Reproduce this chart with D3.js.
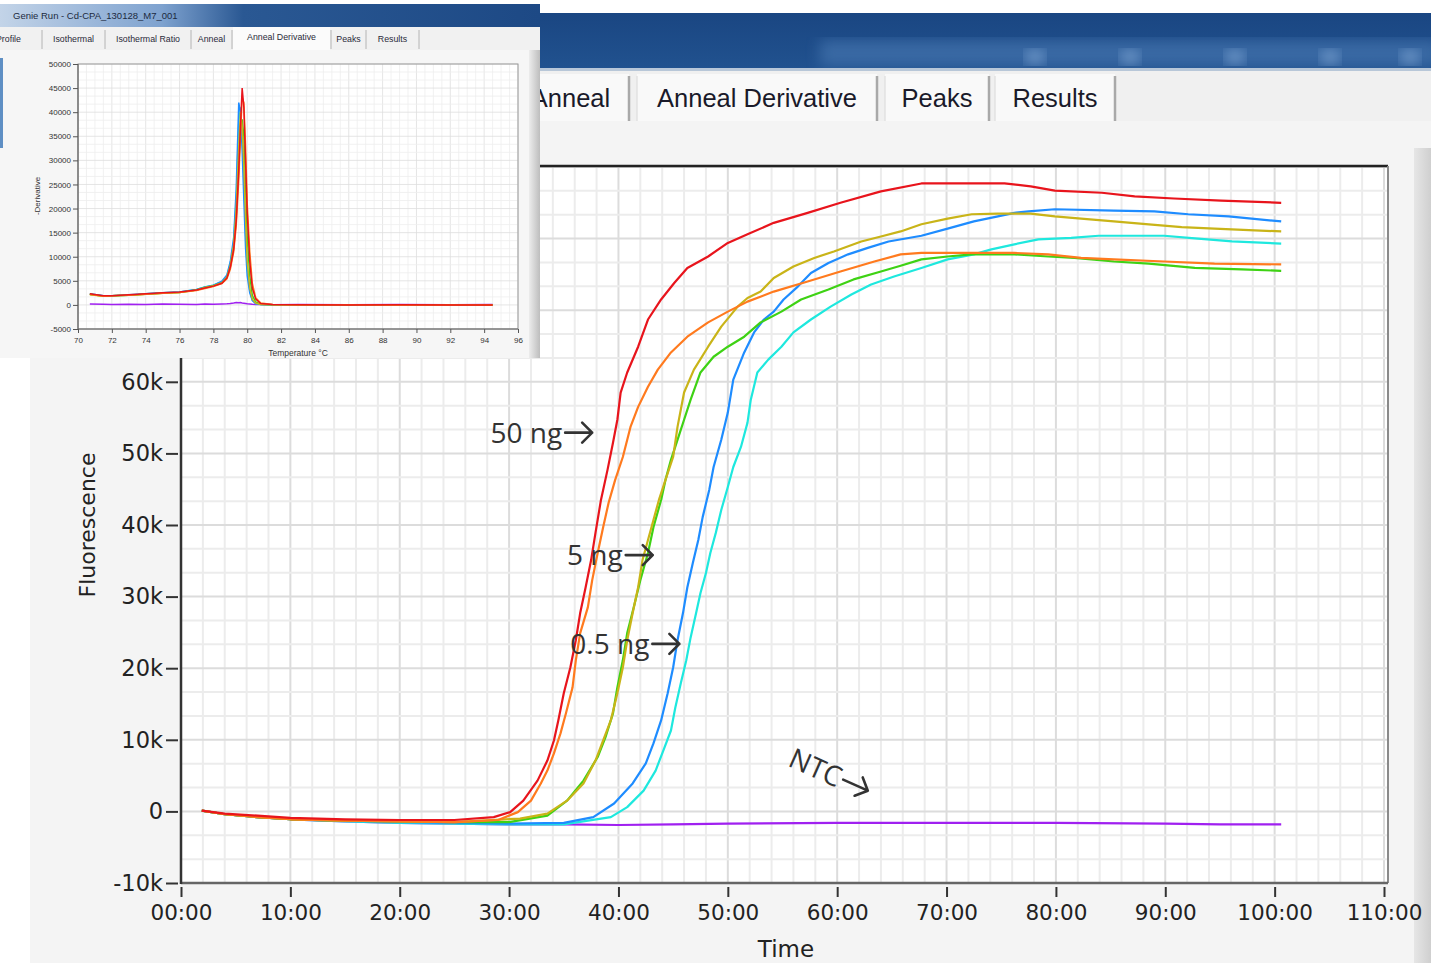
<!DOCTYPE html>
<html>
<head>
<meta charset="utf-8">
<script src="https://cdn.jsdelivr.net/npm/d3@7"></script>
<style>
  body { margin: 0; background: #fff; }
  svg { display: block; }
</style>
</head>
<body>
<svg id="chart" width="1431" height="963"></svg>
<script>

//#region data

// main amplification plot: time in minutes, fluorescence in thousands
const red_time    = [1.9,4,7,10,15,20,25,28.6,30.1,31.3,32.6,33.5,34.1,34.5,35.0,35.6,36.1,36.5,37.0,37.5,37.9,38.4,39.0,39.5,39.9,40.2,40.8,41.8,42.7,43.9,45.1,46.3,48.2,50.0,51.8,54.2,57.3,60.3,64.0,67.7,75.3,77.7,79.9,84.2,87.2,90.8,95.1,100.6];
const red_fluorK  = [0.1,-0.3,-0.6,-0.9,-1.1,-1.2,-1.2,-0.8,-0.1,1.5,4.3,7.1,9.9,12.7,16.5,20.1,23.9,27.7,31.3,35.1,38.9,43.5,47.7,51.5,54.7,58.5,61.3,64.9,68.7,71.5,73.8,75.9,77.5,79.4,80.6,82.2,83.6,85.0,86.6,87.7,87.7,87.3,86.7,86.4,85.9,85.6,85.3,85.0];

const orange_time   = [1.9,4,7,10,15,20,25,29.0,30.8,32.0,32.9,33.5,34.1,34.7,35.2,35.8,36.1,36.5,37.2,37.6,38.1,38.6,39.1,39.7,40.4,41.1,41.8,42.7,43.6,44.8,46.3,48.2,50.0,51.8,54.2,57.3,60.3,63.4,65.8,67.7,76.2,79.3,82.3,85.3,89.9,94.5,100.6];
const orange_fluorK = [0.1,-0.4,-0.8,-1.1,-1.3,-1.4,-1.5,-1.2,-0.1,1.5,3.9,5.7,8.1,10.9,13.7,17.3,21.1,24.9,28.5,32.3,36.1,39.7,43.1,46.3,49.5,53.7,56.5,59.3,61.7,64.1,66.3,68.3,69.8,71.2,72.6,74.0,75.4,76.8,77.8,78.0,78.0,77.8,77.3,77.1,76.8,76.5,76.4];

const olive_time   = [1.9,4,7,10,15,20,25,31.0,33.5,35.3,36.8,37.9,38.6,39.3,39.9,40.4,40.8,41.3,41.8,42.2,42.7,43.2,43.7,44.3,45.0,45.4,46.0,46.9,48.2,49.4,50.9,51.8,53.0,54.2,56.0,57.9,59.7,62.2,64.0,65.8,67.7,70.1,72.3,74.7,77.7,79.9,82.3,85.3,88.5,91.5,94.5,100.6];
const olive_fluorK = [0.1,-0.4,-0.8,-1.1,-1.3,-1.4,-1.5,-1.0,-0.3,1.5,3.9,7.1,9.9,12.7,16.5,20.1,23.9,27.7,31.3,35.1,37.9,40.7,43.5,46.3,49.5,53.7,58.5,61.7,64.9,67.7,70.5,71.7,72.6,74.5,76.1,77.3,78.2,79.6,80.3,81.0,82.0,82.8,83.4,83.5,83.5,83.1,82.8,82.4,82.0,81.6,81.4,81.0];

const green_time   = [1.9,4,7,10,15,20,25,30,33.5,35.3,36.8,38.1,38.8,39.5,39.9,40.4,40.8,41.4,42.0,42.7,43.2,43.9,44.3,44.8,45.4,46.0,46.6,47.5,48.7,50.0,51.5,53.0,54.9,56.7,59.2,61.5,64.0,65.8,67.7,70.1,72.3,76.2,79.3,81.7,85.3,88.5,92.7,97.0,100.6];
const green_fluorK = [0.1,-0.4,-0.8,-1.1,-1.3,-1.4,-1.5,-1.5,-0.6,1.5,4.3,7.6,10.3,13.7,17.3,21.1,24.9,28.5,32.3,36.1,39.7,43.5,46.3,49.1,51.9,54.7,57.5,61.3,63.5,64.9,66.3,68.3,69.8,71.5,72.9,74.3,75.4,76.2,77.1,77.5,77.8,77.8,77.5,77.3,76.8,76.5,75.9,75.7,75.5];

const blue_time   = [1.9,4,7,10,15,20,25,30,35,37.7,39.6,41.3,42.5,43.2,43.9,44.5,45.0,45.4,45.9,46.3,46.8,47.3,47.7,48.3,48.7,49.4,50.0,50.5,51.5,52.4,53.3,54.2,55.1,56.4,57.6,59.2,61.0,62.8,64.7,67.7,70.1,72.5,74.7,76.2,77.5,79.9,85.3,89.0,92.1,95.8,100.6];
const blue_fluorK = [0.1,-0.4,-0.8,-1.1,-1.3,-1.5,-1.6,-1.7,-1.6,-0.8,1.1,3.9,6.7,9.5,12.7,16.5,20.1,23.9,27.7,31.3,34.7,37.9,41.1,44.9,48.1,51.9,55.7,60.3,64.1,66.9,68.7,69.8,71.5,73.3,75.2,76.6,77.8,78.7,79.6,80.4,81.4,82.4,83.1,83.6,83.8,84.1,83.9,83.8,83.4,83.1,82.4];

const cyan_time   = [1.9,4,7,10,15,20,25,30,35,39.3,40.8,42.3,43.4,44.1,44.8,45.2,45.7,46.2,46.6,47.1,47.5,48.0,48.4,48.9,49.4,50.0,50.5,51.2,51.8,52.1,52.7,53.7,54.9,56.0,57.6,59.4,61.3,63.1,65.2,67.7,70.1,72.5,74.1,76.2,78.4,81.4,83.9,89.9,93.0,96.1,100.6];
const cyan_fluorK = [0.1,-0.4,-0.8,-1.1,-1.4,-1.6,-1.7,-1.8,-1.8,-0.8,0.6,2.9,5.7,8.5,11.3,14.5,17.9,21.1,24.3,27.7,30.5,33.3,36.1,38.9,42.1,45.3,48.1,50.9,54.3,57.5,61.3,63.1,64.9,66.9,68.7,70.5,72.2,73.6,74.7,75.9,77.1,77.8,78.5,79.2,79.9,80.1,80.4,80.4,80.0,79.6,79.3];

const ntc_time   = [1.9,4,7,10,15,20,25,30,35,40,45,50,60,70,80,90,95,100.6];
const ntc_fluorK = [0.1,-0.4,-0.8,-1.1,-1.4,-1.6,-1.7,-1.8,-1.8,-1.9,-1.8,-1.7,-1.6,-1.6,-1.6,-1.7,-1.8,-1.8];

const timeTicks  = [0,10,20,30,40,50,60,70,80,90,100,110];
const fluorTicks = [-10,0,10,20,30,40,50,60,70,80,90];

// annotation labels (time, fluorescence k of text start)
const labelText  = ['50 ng', '5 ng', '0.5 ng', 'NTC'];
const labelTime  = [28.3, 35.3, 35.6, 55.4];
const labelFluor = [51.5, 34.4, 22.0, 6.4];

// inset: anneal derivative vs temperature
const insetTemp = [70.7,71.5,72,73,74,75,76,77,77.5,78,78.5,78.8,79.0,79.2,79.35,79.5,79.6,79.7,79.8,79.9,80.0,80.15,80.3,80.5,80.8,81.5,83,86,89,92,94.5];
const red_deriv    = [2300,1900,1900,2100,2300,2500,2700,3100,3500,3900,4500,5600,7800,11500,17500,28000,37000,45000,41000,30000,19000,9000,3500,1200,300,100,50,0,50,0,0];
const orange_deriv = [2200,1800,1900,2000,2200,2400,2600,3000,3400,3800,4400,5400,7400,11000,16500,26000,35000,43000,42000,33000,21000,11000,4500,1500,400,100,50,50,0,0,0];
const olive_deriv  = [2100,1800,1900,2000,2200,2400,2600,3100,3600,4000,4600,5800,8200,12500,20000,33000,40000,37000,29000,18000,9000,3500,1200,400,100,50,0,50,0,0,0];
const green_deriv  = [2200,1800,1900,2000,2200,2400,2600,3100,3600,4000,4600,5700,8000,12000,18500,29000,37000,38500,35000,25000,14000,6000,2000,600,150,50,50,0,0,50,0];
const blue_deriv   = [2300,1900,1900,2100,2300,2500,2700,3200,3700,4100,4900,6200,9000,14000,24000,42000,40000,32000,22000,12000,6000,2500,900,300,100,50,0,50,0,0,50];
const cyan_deriv   = [2200,1900,1900,2000,2300,2500,2700,3200,3700,4100,4800,6000,8600,13000,22000,38000,41000,36000,26000,15000,7500,3000,1000,300,100,50,0,0,50,0,0];
const ntc_deriv    = [200,150,100,150,100,200,150,100,200,150,200,250,300,400,500,450,500,400,350,300,250,200,150,100,100,50,100,50,100,50,100];

const insetTempTicks  = [70,72,74,76,78,80,82,84,86,88,90,92,94,96];
const insetDerivTicks = [-5000,0,5000,10000,15000,20000,25000,30000,35000,40000,45000,50000];

const mainTabs  = ['Anneal', 'Anneal Derivative', 'Peaks', 'Results'];
const insetTabs = ['Profile', 'Isothermal', 'Isothermal Ratio', 'Anneal', 'Anneal Derivative', 'Peaks', 'Results'];

//#endregion


//#region styles

const colors = {
    red: '#e8141c', orange: '#ff7a1e', olive: '#c9b418', green: '#3ed214',
    blue: '#1e8cff', cyan: '#1ee8de', ntc: '#a020f0'
};
const uiFont   = '"Liberation Sans", Arial, sans-serif';
const axisFont = '"DejaVu Sans", Verdana, sans-serif';

//#endregion


const svg  = d3.select('#chart');
const defs = svg.append('defs');

// series drawn in this order (ntc first, red last on top)
const mainSeries = [
    { key: 'ntc',    t: ntc_time,    v: ntc_fluorK },
    { key: 'cyan',   t: cyan_time,   v: cyan_fluorK },
    { key: 'blue',   t: blue_time,   v: blue_fluorK },
    { key: 'green',  t: green_time,  v: green_fluorK },
    { key: 'olive',  t: olive_time,  v: olive_fluorK },
    { key: 'orange', t: orange_time, v: orange_fluorK },
    { key: 'red',    t: red_time,    v: red_fluorK }
];
const insetSeries = [
    { key: 'ntc',    v: ntc_deriv },
    { key: 'cyan',   v: cyan_deriv },
    { key: 'blue',   v: blue_deriv },
    { key: 'green',  v: green_deriv },
    { key: 'olive',  v: olive_deriv },
    { key: 'orange', v: orange_deriv },
    { key: 'red',    v: red_deriv }
];


/**
 *  window chrome behind the main plot (title bar, tabs, panel)
 */
function drawMainWindow(){
    svg.append('rect').attr('x', 30).attr('y', 13).attr('width', 1401).attr('height', 950).attr('fill', '#f4f4f4');

    let tg = defs.append('linearGradient').attr('id', 'titleGrad').attr('x1', 0).attr('y1', 0).attr('x2', 0).attr('y2', 1);
    tg.append('stop').attr('offset', '0%').attr('stop-color', '#1a4682');
    tg.append('stop').attr('offset', '100%').attr('stop-color', '#21528f');
    svg.append('rect').attr('x', 30).attr('y', 13).attr('width', 1401).attr('height', 56).attr('fill', 'url(#titleGrad)');

    // blurry window buttons on the right of the title bar
    defs.append('filter').attr('id', 'blur6').append('feGaussianBlur').attr('stdDeviation', 7);
    svg.append('rect').attr('x', 820).attr('y', 40).attr('width', 620).attr('height', 26)
        .attr('fill', '#4f7fb8').attr('opacity', 0.55).attr('filter', 'url(#blur6)');
    [1035, 1130, 1235, 1330, 1410].forEach(cx => {
        svg.append('ellipse').attr('cx', cx).attr('cy', 57).attr('rx', 10).attr('ry', 7)
            .attr('fill', '#9cc0e8').attr('opacity', 0.6).attr('filter', 'url(#blur6)');
    });

    svg.append('rect').attr('x', 30).attr('y', 68).attr('width', 1401).attr('height', 3).attr('fill', '#b8c7d8');
    svg.append('rect').attr('x', 30).attr('y', 71).attr('width', 1401).attr('height', 50).attr('fill', '#f0f0f0');

    // tabs
    let tabEdges = [[490, 629], [637, 877], [885, 989], [995, 1115]];
    mainTabs.forEach((name, i) => {
        let x0 = tabEdges[i][0], x1 = tabEdges[i][1];
        svg.append('rect').attr('x', x0).attr('y', 74).attr('width', x1 - x0).attr('height', 47).attr('fill', '#f9f9f9');
        svg.append('line').attr('x1', x1).attr('x2', x1).attr('y1', 76).attr('y2', 121).attr('stroke', '#a9a9a9').attr('stroke-width', 2.5);
        svg.append('line').attr('x1', x0).attr('x2', x0).attr('y1', 76).attr('y2', 121).attr('stroke', '#e2e2e2').attr('stroke-width', 1.5);
        svg.append('text').attr('x', (x0 + x1) / 2 + (i === 0 ? 11 : 0)).attr('y', 107)
            .attr('text-anchor', 'middle').attr('font-family', uiFont).attr('font-size', 25.5)
            .attr('fill', '#1a1a2a').text(name);
    });

    svg.append('rect').attr('x', 30).attr('y', 121).attr('width', 1401).attr('height', 842).attr('fill', '#f4f4f4');

    // right scroll strip
    let sg = defs.append('linearGradient').attr('id', 'stripGrad');
    sg.append('stop').attr('offset', '0%').attr('stop-color', '#e6e6e6');
    sg.append('stop').attr('offset', '100%').attr('stop-color', '#cfcfcf');
    svg.append('rect').attr('x', 1414).attr('y', 148).attr('width', 17).attr('height', 815).attr('fill', 'url(#stripGrad)');
}


/**
 *  text label followed by a hand-drawn style arrow
 */
function drawLabel(px, py, angle, txt){
    let g = svg.append('g').attr('transform', `translate(${px},${py}) rotate(${angle})`);
    let t = g.append('text')
        .attr('font-family', '"Open Sans", "Noto Sans", sans-serif').attr('font-size', 28).attr('fill', '#333')
        .text(txt);
    let w = t.node().getComputedTextLength();
    g.append('path')
        .attr('d', `M${w + 3},-10 H${w + 30} M${w + 20},-20 L${w + 30},-10 L${w + 20},0`)
        .attr('fill', 'none').attr('stroke', '#333').attr('stroke-width', 2.6)
        .attr('stroke-linecap', 'round').attr('stroke-linejoin', 'round');
}


/**
 *  the big fluorescence vs time chart
 */
function drawMainPlot(){
    let x = d3.scaleLinear().domain([0, 110]).range([181, 1384]);
    let y = d3.scaleLinear().domain([-10, 90]).range([883, 167]);

    let top = y(90) - 1, bottom = y(-10), left = x(0), right = 1388;

    svg.append('rect').attr('x', left).attr('y', top).attr('width', right - left).attr('height', bottom - top).attr('fill', '#fff');

    // grid: 2 min columns, 10k/3 rows, majors darker
    let g = svg.append('g');
    d3.range(0, 111, 2).forEach(m => {
        g.append('line').attr('x1', x(m)).attr('x2', x(m)).attr('y1', top).attr('y2', bottom)
            .attr('stroke', m % 10 === 0 ? '#dcdcdc' : '#ececec').attr('stroke-width', 2);
    });
    d3.range(0, 31).forEach(i => {
        let v = -10 + i * 10 / 3;
        g.append('line').attr('x1', left).attr('x2', right).attr('y1', y(v)).attr('y2', y(v))
            .attr('stroke', i % 3 === 0 ? '#dcdcdc' : '#ececec').attr('stroke-width', 2);
    });

    defs.append('clipPath').attr('id', 'mainClip').append('rect')
        .attr('x', left).attr('y', top).attr('width', right - left).attr('height', bottom - top);

    let line = d3.line().x(d => x(d[0])).y(d => y(d[1]));
    svg.append('g').attr('clip-path', 'url(#mainClip)')
        .selectAll('path').data(mainSeries).join('path')
        .attr('d', s => line(d3.zip(s.t, s.v)))
        .attr('fill', 'none')
        .attr('stroke', s => colors[s.key])
        .attr('stroke-width', 2.2)
        .attr('stroke-linejoin', 'round');

    // frame
    svg.append('line').attr('x1', left).attr('x2', right).attr('y1', top).attr('y2', top).attr('stroke', '#222').attr('stroke-width', 2.5);
    svg.append('line').attr('x1', right).attr('x2', right).attr('y1', top).attr('y2', bottom).attr('stroke', '#8a8a8a').attr('stroke-width', 2);
    svg.append('line').attr('x1', left).attr('x2', right).attr('y1', bottom).attr('y2', bottom).attr('stroke', '#666').attr('stroke-width', 2.5);
    svg.append('line').attr('x1', left).attr('x2', left).attr('y1', top).attr('y2', bottom + 1).attr('stroke', '#333').attr('stroke-width', 2.5);

    // y axis
    let yAxis = svg.append('g').attr('transform', `translate(${left - 3},0)`)
        .call(d3.axisLeft(y).tickValues(fluorTicks).tickSize(12).tickPadding(3)
            .tickFormat(d => d === 0 ? '0' : d + 'k'));
    yAxis.select('.domain').remove();
    yAxis.selectAll('line').attr('stroke', '#333').attr('stroke-width', 2);
    yAxis.selectAll('text').attr('font-family', axisFont).attr('font-size', 22.5).attr('fill', '#222');

    // x axis
    let xAxis = svg.append('g').attr('transform', `translate(0,${bottom + 4})`)
        .call(d3.axisBottom(x).tickValues(timeTicks).tickSize(10).tickPadding(8)
            .tickFormat(d => String(d).padStart(2, '0') + ':00'));
    xAxis.select('.domain').remove();
    xAxis.selectAll('line').attr('stroke', '#333').attr('stroke-width', 2);
    xAxis.selectAll('text').attr('font-family', axisFont).attr('font-size', 21.5).attr('fill', '#222');

    // axis titles
    svg.append('text').attr('transform', 'translate(95,525) rotate(-90)')
        .attr('text-anchor', 'middle').attr('font-family', axisFont).attr('font-size', 22).attr('fill', '#222')
        .text('Fluorescence');
    svg.append('text').attr('x', 786).attr('y', 957)
        .attr('text-anchor', 'middle').attr('font-family', axisFont).attr('font-size', 23).attr('fill', '#222')
        .text('Time');

    // hand-written annotations
    labelText.forEach((txt, i) => {
        drawLabel(x(labelTime[i]), y(labelFluor[i]), txt === 'NTC' ? 24 : 0, txt);
    });
}


/**
 *  small screenshot of the anneal derivative window, top left
 */
function drawInset(){
    let g = svg.append('g');

    g.append('rect').attr('x', 0).attr('y', 0).attr('width', 540).attr('height', 358).attr('fill', '#f4f4f4');

    // title bar
    let ig = defs.append('linearGradient').attr('id', 'insetTitle');
    ig.append('stop').attr('offset', '0%').attr('stop-color', '#c3d4e8');
    ig.append('stop').attr('offset', '30%').attr('stop-color', '#7ea2cf');
    ig.append('stop').attr('offset', '45%').attr('stop-color', '#2a5893');
    ig.append('stop').attr('offset', '100%').attr('stop-color', '#1d4985');
    g.append('rect').attr('x', 0).attr('y', 0).attr('width', 540).attr('height', 4).attr('fill', '#fff');
    g.append('rect').attr('x', 0).attr('y', 4).attr('width', 540).attr('height', 23).attr('fill', 'url(#insetTitle)');
    g.append('text').attr('x', 13).attr('y', 19).attr('font-family', uiFont).attr('font-size', 9.5).attr('fill', '#1c2a40')
        .text('Genie Run - Cd-CPA_130128_M7_001');

    // tab row
    g.append('rect').attr('x', 0).attr('y', 27).attr('width', 540).attr('height', 23).attr('fill', '#f1f1f1');
    let tabSep = [-24, 42, 105, 191, 232, 331, 366, 419];
    g.append('rect').attr('x', 233).attr('y', 27).attr('width', 97).attr('height', 23).attr('fill', '#fbfbfb');
    insetTabs.forEach((name, i) => {
        let t = g.append('text').attr('y', i === 4 ? 40 : 42)
            .attr('font-family', uiFont).attr('font-size', 8.8).attr('fill', '#2a2a3a')
            .text(name);
        if(i === 0){
            // first tab is cut by the window edge
            t.attr('x', -4).attr('text-anchor', 'start');
        } else {
            t.attr('x', (tabSep[i] + tabSep[i + 1]) / 2).attr('text-anchor', 'middle');
        }
        g.append('line').attr('x1', tabSep[i + 1]).attr('x2', tabSep[i + 1]).attr('y1', 30).attr('y2', 49)
            .attr('stroke', '#b4b4b4').attr('stroke-width', 1);
    });

    g.append('rect').attr('x', 0).attr('y', 50).attr('width', 540).attr('height', 308).attr('fill', '#f6f6f6');
    g.append('rect').attr('x', 0).attr('y', 58).attr('width', 3).attr('height', 90).attr('fill', '#5f8fc4');

    let eg = defs.append('linearGradient').attr('id', 'insetEdge');
    eg.append('stop').attr('offset', '0%').attr('stop-color', '#ececec');
    eg.append('stop').attr('offset', '100%').attr('stop-color', '#bdbdbd');
    g.append('rect').attr('x', 529).attr('y', 50).attr('width', 11).attr('height', 308).attr('fill', 'url(#insetEdge)');

    let x = d3.scaleLinear().domain([70, 96]).range([78, 518]);
    let y = d3.scaleLinear().domain([-5000, 50000]).range([329, 64]);
    let left = x(70), right = x(96), top = y(50000), bottom = y(-5000);

    g.append('rect').attr('x', left).attr('y', top).attr('width', right - left).attr('height', bottom - top).attr('fill', '#fff');

    d3.range(0, 53).forEach(i => {
        let t = 70 + i * 0.5;
        g.append('line').attr('x1', x(t)).attr('x2', x(t)).attr('y1', top).attr('y2', bottom)
            .attr('stroke', i % 4 === 0 ? '#dedede' : '#eeeeee').attr('stroke-width', 0.8);
    });
    d3.range(0, 34).forEach(i => {
        let v = -5000 + i * 5000 / 3;
        g.append('line').attr('x1', left).attr('x2', right).attr('y1', y(v)).attr('y2', y(v))
            .attr('stroke', i % 3 === 0 ? '#dedede' : '#eeeeee').attr('stroke-width', 0.8);
    });

    let line = d3.line().x(d => x(d[0])).y(d => y(d[1]));
    g.append('g').selectAll('path').data(insetSeries).join('path')
        .attr('d', s => line(d3.zip(insetTemp, s.v)))
        .attr('fill', 'none')
        .attr('stroke', s => colors[s.key])
        .attr('stroke-width', 1.5);

    g.append('rect').attr('x', left).attr('y', top).attr('width', right - left).attr('height', bottom - top)
        .attr('fill', 'none').attr('stroke', '#9a9a9a').attr('stroke-width', 1);
    g.append('line').attr('x1', left).attr('x2', left).attr('y1', top).attr('y2', bottom).attr('stroke', '#666').attr('stroke-width', 1.2);
    g.append('line').attr('x1', left).attr('x2', right).attr('y1', bottom).attr('y2', bottom).attr('stroke', '#666').attr('stroke-width', 1.2);

    let ya = g.append('g').attr('transform', `translate(${left},0)`)
        .call(d3.axisLeft(y).tickValues(insetDerivTicks).tickSize(5).tickPadding(2).tickFormat(d => String(d)));
    ya.select('.domain').remove();
    ya.selectAll('line').attr('stroke', '#555');
    ya.selectAll('text').attr('font-family', uiFont).attr('font-size', 8).attr('fill', '#333');

    let xa = g.append('g').attr('transform', `translate(0,${bottom})`)
        .call(d3.axisBottom(x).tickValues(insetTempTicks).tickSize(4).tickPadding(4));
    xa.select('.domain').remove();
    xa.selectAll('line').attr('stroke', '#555');
    xa.selectAll('text').attr('font-family', uiFont).attr('font-size', 8).attr('fill', '#333');

    g.append('text').attr('transform', 'translate(40,196) rotate(-90)').attr('text-anchor', 'middle')
        .attr('font-family', uiFont).attr('font-size', 8).attr('fill', '#333').text('-Derivative');
    g.append('text').attr('x', 298).attr('y', 356).attr('text-anchor', 'middle')
        .attr('font-family', uiFont).attr('font-size', 8.5).attr('fill', '#333').text('Temperature \u00B0C');
}


drawMainWindow();
drawMainPlot();
drawInset();

</script>
</body>
</html>
